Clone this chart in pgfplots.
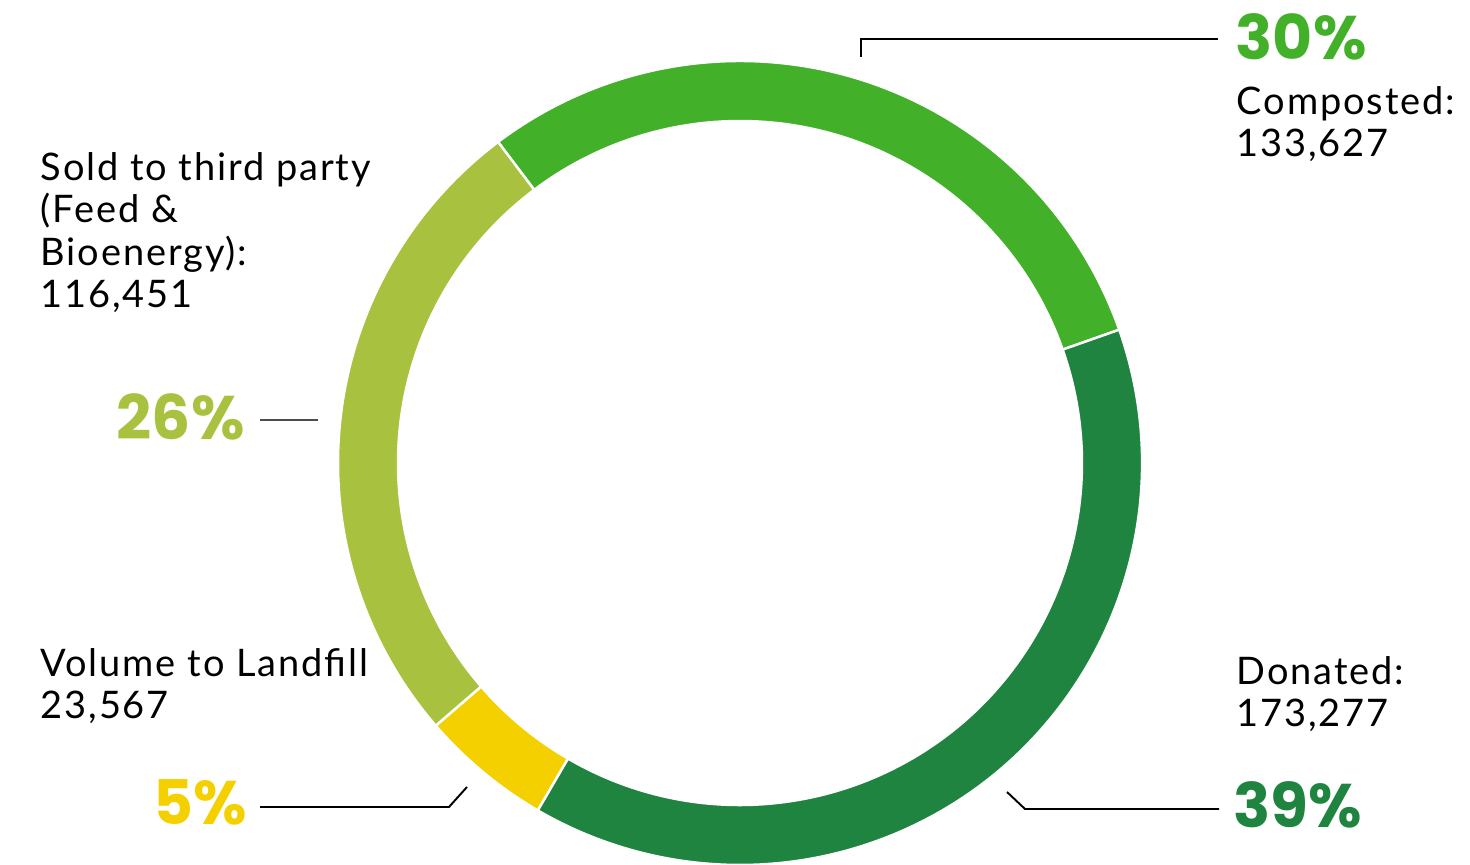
\documentclass[border=0pt]{standalone}
\usepackage{pgfplots}
\usepackage{pgfplotstable}
\pgfplotsset{compat=1.18}
\usepackage{fontspec}
\setmainfont{Lato}
\newfontfamily\lblfont{Lato}[LetterSpace=5]
\newfontfamily\pctfont{Poppins}
\definecolor{compost}{HTML}{43B02A}
\definecolor{donate}{HTML}{1E843F}
\definecolor{sold}{HTML}{A8C23F}
\definecolor{landfill}{HTML}{F5D000}

\pgfplotstableread{
label value
Composted 133627
Donated 173277
Landfill 23567
Sold 116451
}\wastetable

\pgfplotstablegetelem{0}{value}\of\wastetable \let\vA\pgfplotsretval
\pgfplotstablegetelem{1}{value}\of\wastetable \let\vB\pgfplotsretval
\pgfplotstablegetelem{2}{value}\of\wastetable \let\vC\pgfplotsretval
\pgfplotstablegetelem{3}{value}\of\wastetable \let\vD\pgfplotsretval
\edef\T{\fpeval{\vA+\vB+\vC+\vD}}
\edef\aA{127}
\edef\aB{\fpeval{round(\aA-360*\vA/\T,3)}}
\edef\aC{\fpeval{round(\aB-360*\vB/\T,3)}}
\edef\aD{\fpeval{round(\aC-360*\vC/\T,3)}}
\edef\aE{\fpeval{round(\aD-360*\vD/\T,3)}}

\newcommand\seg[3]{%
  \fill[#3,draw=white,line width=0.7pt]
    ([shift={(#1:40.2mm)}]C) arc[start angle=#1,end angle=#2,radius=40.2mm]
    -- ([shift={(#2:34.2mm)}]C) arc[start angle=#2,end angle=#1,radius=34.2mm] -- cycle;}

\begin{document}
\begin{tikzpicture}
\begin{axis}[
  x=0.1mm, y=0.1mm,
  xmin=0, xmax=1470, ymin=0, ymax=865,
  hide axis, clip=false,
]
\coordinate (BL) at (rel axis cs:0,0);
\coordinate (TR) at (rel axis cs:1,1);
\coordinate (C) at (axis cs:740,402);
\seg{\aA}{\aB}{compost}
\seg{\aB}{\aC}{donate}
\seg{\aC}{\aD}{landfill}
\seg{\aD}{\aE}{sold}

% leader lines
\draw[black,line width=0.55pt] (axis cs:861,808) |- (axis cs:1218,826);
\draw[black!70,line width=0.55pt] (axis cs:260,445) -- (axis cs:318,445);
\draw[black,line width=0.55pt] (axis cs:260,58) -- (axis cs:449,58) -- (axis cs:467,78);
\draw[black,line width=0.55pt] (axis cs:1007,73) -- (axis cs:1025,56) -- (axis cs:1219,56);

% percentages
\node[anchor=base west,inner sep=0,text=compost,font=\pctfont\bfseries\fontsize{17.5}{20}\selectfont] at (axis cs:1235,805) {30\%};
\node[anchor=base west,inner sep=0,text=sold,font=\pctfont\bfseries\fontsize{17.5}{20}\selectfont] at (axis cs:116,425) {26\%};
\node[anchor=base west,inner sep=0,text=landfill,font=\pctfont\bfseries\fontsize{17.5}{20}\selectfont] at (axis cs:153,40) {5\%};
\node[anchor=base west,inner sep=0,text=donate,font=\pctfont\bfseries\fontsize{17.5}{20}\selectfont] at (axis cs:1233,37) {39\%};

% labels (anchor at baseline of last line)
\tikzset{lbl/.style={anchor=base west,inner sep=0,align=left,font=\lblfont\fontsize{10.8}{12.1}\selectfont}}
\node[lbl] at (axis cs:1236,708) {Composted:\\133,627};
\node[lbl] at (axis cs:40,557) {Sold to third party\\(Feed \&\\Bioenergy):\\116,451};
\node[lbl] at (axis cs:40,146) {Volume to Landfill\\23,567};
\node[lbl] at (axis cs:1236,138) {Donated:\\173,277};
\end{axis}
\pgfresetboundingbox
\path[use as bounding box] (BL) rectangle (TR);
\end{tikzpicture}
\end{document}
